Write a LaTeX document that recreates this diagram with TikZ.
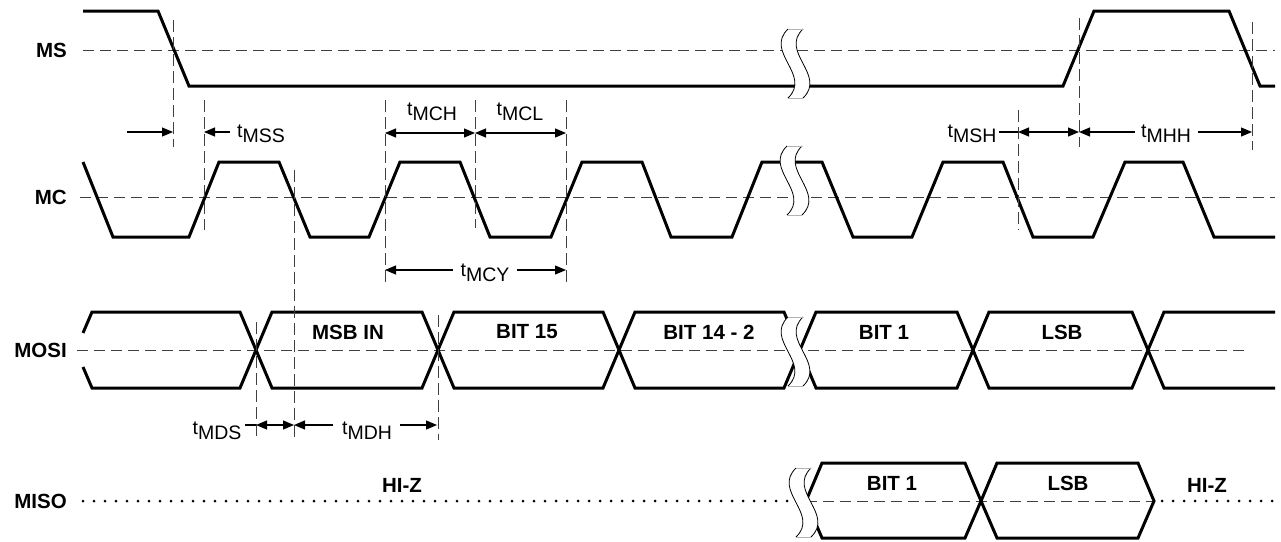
\documentclass[tikz,border=0pt]{standalone}
\usepackage{fontspec}
\setmainfont{Liberation Sans}
\usetikzlibrary{arrows.meta}
\newcommand{\tsub}[1]{t\raisebox{-5pt}{#1}}

\begin{document}
\begin{tikzpicture}[x=1pt, y=-1pt, font=\fontsize{19.5}{22}\selectfont,
    sig/.style={line width=3pt},
    midline/.style={line width=1pt, black!75, dash pattern=on 11pt off 6pt},
    guide/.style={line width=1pt, black!75, dash pattern=on 12pt off 5pt},
    hiz/.style={line width=3pt, line cap=round, dash pattern=on 0pt off 11pt},
    dim/.style={line width=1.2pt, -{Triangle[length=11pt,width=9pt]}},
    dimboth/.style={line width=1.2pt, {Triangle[length=11pt,width=9pt]}-{Triangle[length=11pt,width=9pt]}},
    signame/.style={font=\fontsize{20.5}{22}\selectfont\bfseries, anchor=east, inner sep=0pt},
    data/.style={font=\fontsize{20.5}{22}\selectfont\bfseries, inner sep=0pt},
    tlab/.style={anchor=base, inner sep=0pt},
    brk/.pic={
      \fill[white] (0,0) .. controls +(-24,23) and +(24,-23) .. (0,69) -- (15,69) .. controls +(24,-23) and +(-24,23) .. (15,0) -- cycle;
      \draw[line width=0.8pt] (0,0) .. controls +(-24,23) and +(24,-23) .. (0,69);
      \draw[line width=0.8pt] (15,0) .. controls +(-24,23) and +(24,-23) .. (15,69);
      \draw[line width=1pt, black!30] (0,0) -- (15,0) (0,69) -- (15,69);
    }]
    \useasboundingbox (0,0) rectangle (1281,541);

    % signal names
    \node (ms) [signame] at (67,50) {MS};
    \node (mc) [signame] at (67,197) {MC};
    \node (mosi) [signame] at (67,350) {MOSI};
    \node (miso) [signame] at (67,501) {MISO};

    % MS
    \draw[midline] (83,50) -- (1275,50);
    \draw[sig] (83,11) -- (158,11) -- (189,86) -- (1063,86) -- (1094,11) -- (1229,11) -- (1260,86) -- (1275,86);

    % MC
    \draw[midline] (80,197) -- (1275,197);
    \draw[sig] (83,162) -- (113,237) -- (189,237) -- (219,162) -- (279,162) -- (310,237) -- (369,237) -- (400,162) -- (460,162) -- (490,237) -- (551,237) -- (582,162) -- (642,162) -- (671,237) -- (732,237) -- (762,162) -- (822,162) -- (853,237) -- (912,237) -- (943,162) -- (1003,162) -- (1033,237) -- (1093,237) -- (1125,162) -- (1183,162) -- (1214,237) -- (1275,237);

    % MOSI
    \draw[midline] (77,350) -- (1248,350);
    \draw[sig] (83,333) -- (92,312) -- (240,312) -- (256,350) -- (240,388) -- (92,388) -- (83,367);
    \draw[sig] (256,350) -- (272,312) -- (422,312) -- (438,350) -- (422,388) -- (272,388) -- cycle;
    \draw[sig] (438,350) -- (454,312) -- (603,312) -- (619,350) -- (603,388) -- (454,388) -- cycle;
    \draw[sig] (619,350) -- (635,312) -- (784,312) -- (800,350) -- (784,388) -- (635,388) -- cycle;
    \draw[sig] (800,350) -- (816,312) -- (957,312) -- (973,350) -- (957,388) -- (816,388) -- cycle;
    \draw[sig] (973,350) -- (989,312) -- (1132,312) -- (1148,350) -- (1132,388) -- (989,388) -- cycle;
    \draw[sig] (1275,312) -- (1164,312) -- (1148,350) -- (1164,388) -- (1275,388);
    \node (msbin) [data] at (348,332) {MSB IN};
    \node (bit15) [data] at (527,332) {BIT 15};
    \node (bit142) [data] at (709,332) {BIT 14 - 2};
    \node (bit1) [data] at (884,332) {BIT 1};
    \node (lsb) [data] at (1062,332) {LSB};

    % MISO
    \draw[hiz] (83,501) -- (800,501);
    \draw[hiz] (1162,501) -- (1278,501);
    \draw[midline] (806,501) -- (1154,501);
    \draw[sig] (806,501) -- (822,463) -- (965,463) -- (981,501) -- (965,538) -- (822,538) -- cycle;
    \draw[sig] (981,501) -- (997,463) -- (1138,463) -- (1154,501) -- (1138,538) -- (997,538) -- cycle;
    \node (hizl) [data] at (402,485) {HI-Z};
    \node (obit1) [data] at (892,483) {BIT 1};
    \node (olsb) [data] at (1068,483) {LSB};
    \node (hizr) [data] at (1207,485) {HI-Z};

    % breaks
    \pic at (788,29) {brk};
    \pic at (787,146) {brk};
    \pic at (788,317) {brk};
    \pic at (796,468) {brk};

    % timing guides
    \draw[guide] (173,20) -- (173,147);
    \draw[guide] (204,100) -- (204,230);
    \draw[guide] (294,170) -- (294,440);
    \draw[guide] (385,100) -- (385,282);
    \draw[guide] (475,100) -- (475,228);
    \draw[guide] (566,100) -- (566,282);
    \draw[guide] (256,322) -- (256,440);
    \draw[guide] (438,315) -- (438,440);
    \draw[guide] (1018,110) -- (1018,230);
    \draw[guide] (1079,18) -- (1079,147);
    \draw[guide] (1252,22) -- (1252,150);

    % tMSS
    \coordinate (mssA) at (127,132);
    \coordinate (mssB) at (173,132);
    \coordinate (mssC) at (204,132);
    \coordinate (mssD) at (230,132);
    \draw[dim] (mssA) -- (mssB);
    \draw[dim] (mssD) -- (mssC);
    \node (tmss) [tlab] at (261,137) {\tsub{MSS}};

    % tMCH, tMCL
    \coordinate (mcA) at (385,133);
    \coordinate (mcB) at (475,133);
    \coordinate (mcC) at (566,133);
    \draw[dimboth] (mcA) -- (mcB);
    \draw[dimboth] (mcB) -- (mcC);
    \node (tmch) [tlab] at (432,115) {\tsub{MCH}};
    \node (tmcl) [tlab] at (520,115) {\tsub{MCL}};

    % tMCY
    \coordinate (cyA) at (385,270);
    \coordinate (cyB) at (453,270);
    \coordinate (cyC) at (517,270);
    \coordinate (cyD) at (566,270);
    \draw[dim] (cyB) -- (cyA);
    \draw[dim] (cyC) -- (cyD);
    \node (tmcy) [tlab] at (485,276) {\tsub{MCY}};

    % tMSH, tMHH
    \coordinate (shA) at (999,132);
    \coordinate (shB) at (1018,132);
    \coordinate (shC) at (1079,132);
    \coordinate (hhA) at (1135,132);
    \coordinate (hhB) at (1198,132);
    \coordinate (hhC) at (1252,132);
    \draw[line width=1.2pt] (shA) -- (shB);
    \draw[dimboth] (shB) -- (shC);
    \draw[dim] (hhA) -- (shC);
    \draw[dim] (hhB) -- (hhC);
    \node (tmsh) [tlab] at (972,137) {\tsub{MSH}};
    \node (tmhh) [tlab] at (1166,137) {\tsub{MHH}};

    % tMDS, tMDH
    \coordinate (dsA) at (245,425);
    \coordinate (dsB) at (256,425);
    \coordinate (dsC) at (294,425);
    \coordinate (dhA) at (333,425);
    \coordinate (dhB) at (400,425);
    \coordinate (dhC) at (437,425);
    \draw[line width=1.2pt] (dsA) -- (dsB);
    \draw[dimboth] (dsB) -- (dsC);
    \draw[dim] (dhA) -- (dsC);
    \draw[dim] (dhB) -- (dhC);
    \node (tmds) [tlab] at (217,434) {\tsub{MDS}};
    \node (tmdh) [tlab] at (367,434) {\tsub{MDH}};
\end{tikzpicture}
\end{document}
